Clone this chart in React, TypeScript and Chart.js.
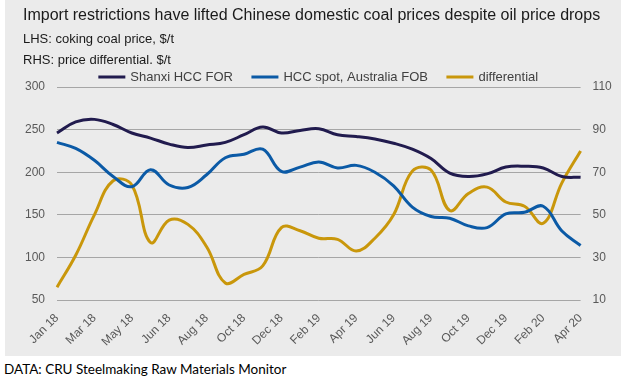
import React, { useEffect, useRef } from "react";
import { Chart, registerables } from "chart.js";

Chart.register(...registerables);

const categories = [
  "Jan 18", "Feb 18", "Mar 18", "Apr 18", "May 18", "May 18", "Jun 18", "Jul 18",
  "Aug 18", "Sep 18", "Oct 18", "Nov 18", "Dec 18", "Jan 19", "Feb 19", "Mar 19",
  "Apr 19", "May 19", "Jun 19", "Jul 19", "Aug 19", "Sep 19", "Oct 19", "Nov 19",
  "Dec 19", "Jan 20", "Feb 20", "Mar 20", "Apr 20",
];

const shanxi = [246, 259, 262, 256, 246, 240, 233, 229, 232, 235, 244, 253, 246, 249, 251, 244, 242, 239, 234, 227, 216, 199, 195, 198, 206, 207, 205, 195, 194];
const hccSpot = [235, 228, 214, 195, 183, 203, 185, 182, 197, 217, 221, 227, 201, 206, 212, 205, 208, 200, 184, 159, 148, 146, 137, 135, 151, 153, 160, 131, 114];
const differential = [16, 31, 50, 66, 64, 37, 47.5, 45.5, 35, 18, 22, 26, 44, 42.5, 39, 38.5, 33, 39, 50, 70.5, 71, 52, 60, 63, 56, 54, 46, 65, 80];

const leftTicks = { min: 50, max: 300, step: 50 };
const rightTicks = { min: 10, max: 110, step: 20 };

const titleText = "Import restrictions have lifted Chinese domestic coal prices despite oil price drops";
const subtitleLines = ["LHS: coking coal price, $/t", "RHS: price differential. $/t"];
const sourceText = "DATA: CRU Steelmaking Raw Materials Monitor";

const FONT = "'Liberation Sans', Arial, sans-serif";

export default function App() {
  const ref = useRef<HTMLCanvasElement | null>(null);

  useEffect(() => {
    document.body.style.margin = "0";
    const canvas = ref.current;
    if (!canvas) return;
    const chart = new Chart(canvas, {
      type: "line",
      data: {
        labels: categories,
        datasets: [
          {
            label: "Shanxi HCC FOR",
            data: shanxi,
            borderColor: "#211b4e",
            backgroundColor: "#211b4e",
            borderWidth: 3,
            pointRadius: 0,
            tension: 0.4,
            yAxisID: "y",
          },
          {
            label: "HCC spot, Australia FOB",
            data: hccSpot,
            borderColor: "#0b5aa6",
            backgroundColor: "#0b5aa6",
            borderWidth: 3,
            pointRadius: 0,
            tension: 0.4,
            yAxisID: "y",
          },
          {
            label: "differential",
            data: differential,
            borderColor: "#c9970b",
            backgroundColor: "#c9970b",
            borderWidth: 3,
            pointRadius: 0,
            tension: 0.4,
            yAxisID: "y1",
          },
        ],
      },
      options: {
        animation: false,
        responsive: false,
        maintainAspectRatio: false,
        layout: { padding: { left: 18, right: 6, top: 0, bottom: 0 } },
        plugins: {
          title: {
            display: true,
            text: titleText,
            align: "start",
            color: "#1a1a1a",
            font: { family: FONT, size: 16, weight: "normal", lineHeight: 1.2 },
            padding: { top: 6.4, bottom: 0 },
          },
          subtitle: {
            display: true,
            text: subtitleLines,
            align: "start",
            color: "#1a1a1a",
            font: { family: FONT, size: 13, weight: "normal", lineHeight: 21 / 13 },
            padding: { top: 2.9, bottom: -20 },
          },
          legend: {
            display: true,
            position: "top",
            maxHeight: 36.5,
            labels: {
              color: "#404040",
              font: { family: FONT, size: 13 },
              boxWidth: 24,
              boxHeight: 0.001,
              padding: 20,
            },
          },
          tooltip: { enabled: false },
        },
        scales: {
          x: {
            grid: { display: false },
            border: { display: false },
            ticks: {
              autoSkip: false,
              maxRotation: 45,
              minRotation: 45,
              color: "#595959",
              padding: 3,
              font: { family: FONT, size: 12 },
              callback: (_v: any, i: number) => (i % 2 === 0 ? categories[i] : null),
            },
            afterFit: (s: any) => {
              s.height = 56;
            },
          },
          y: {
            position: "left",
            min: leftTicks.min,
            max: leftTicks.max,
            ticks: {
              stepSize: leftTicks.step,
              color: "#595959",
              padding: 12,
              font: { family: FONT, size: 12 },
            },
            grid: { color: "#a6a6a6", lineWidth: 1, drawTicks: false },
            border: { display: false },
            afterFit: (s: any) => {
              s.width = 34;
            },
          },
          y1: {
            position: "right",
            min: rightTicks.min,
            max: rightTicks.max,
            ticks: {
              stepSize: rightTicks.step,
              color: "#595959",
              padding: 12,
              font: { family: FONT, size: 12 },
            },
            grid: { drawOnChartArea: false, drawTicks: false },
            border: { display: false },
            afterFit: (s: any) => {
              s.width = 34.4;
            },
          },
        },
      },
    });
    return () => chart.destroy();
  }, []);

  return (
    <div style={{ position: "relative", width: 626, height: 379, background: "#ffffff" }}>
      <div style={{ position: "absolute", left: 5, top: 0, width: 616, height: 356, background: "#ebebeb" }}>
        <canvas ref={ref} width={616} height={356} style={{ display: "block", width: 616, height: 356 }} />
      </div>
      <div
        style={{
          position: "absolute",
          left: 4,
          top: 360,
          fontFamily: "Lato, 'Open Sans', sans-serif",
          fontSize: 13.5,
          color: "#000",
          lineHeight: "18px",
          whiteSpace: "nowrap",
        }}
      >
        {sourceText}
      </div>
    </div>
  );
}
